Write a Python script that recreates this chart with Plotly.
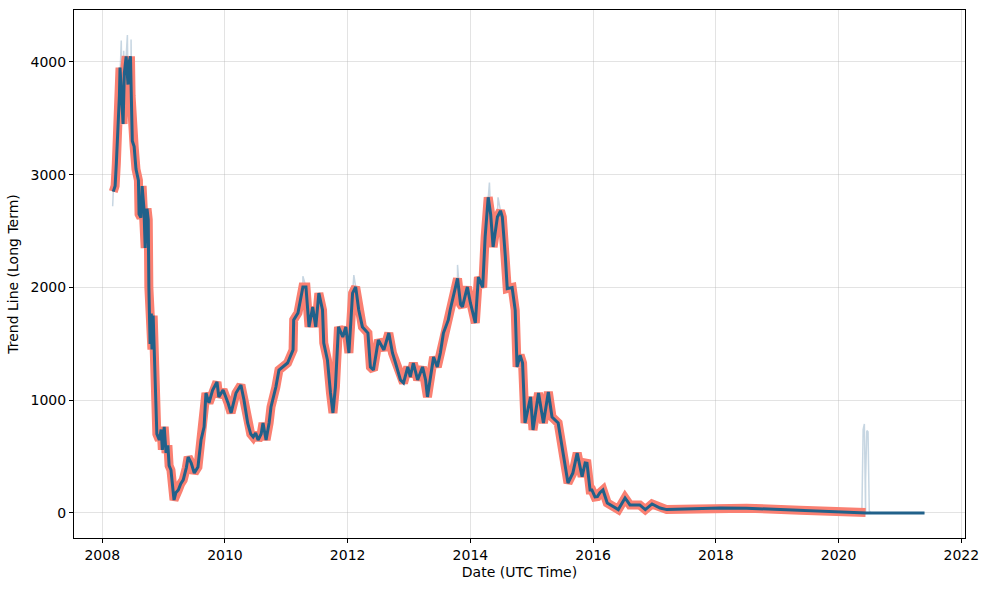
import plotly.graph_objects as go

# Long-term trend (decimal year, value)
trend_year = [
    2008.18, 2008.21, 2008.23, 2008.26, 2008.28, 2008.29, 2008.33, 2008.34, 2008.36, 2008.39,
    2008.42, 2008.44, 2008.46, 2008.47, 2008.49, 2008.52, 2008.55, 2008.59, 2008.60, 2008.63,
    2008.65, 2008.68, 2008.70, 2008.73, 2008.75, 2008.76, 2008.78, 2008.80, 2008.81, 2008.83,
    2008.85, 2008.86, 2008.88, 2008.89, 2008.93, 2008.96, 2008.98, 2009.01, 2009.04, 2009.07,
    2009.09, 2009.12, 2009.17, 2009.20, 2009.24, 2009.28, 2009.32, 2009.37, 2009.40, 2009.45,
    2009.50, 2009.56, 2009.61, 2009.66, 2009.69, 2009.74, 2009.80, 2009.87, 2009.90, 2009.97,
    2010.05, 2010.10, 2010.18, 2010.26, 2010.31, 2010.37, 2010.42, 2010.46, 2010.50, 2010.54,
    2010.59, 2010.62, 2010.67, 2010.72, 2010.75, 2010.83, 2010.88, 2010.94, 2011.02, 2011.11,
    2011.12, 2011.19, 2011.27, 2011.32, 2011.37, 2011.43, 2011.48, 2011.53, 2011.59, 2011.61,
    2011.67, 2011.72, 2011.76, 2011.80, 2011.85, 2011.92, 2011.97, 2012.02, 2012.08, 2012.13,
    2012.18, 2012.24, 2012.33, 2012.37, 2012.42, 2012.50, 2012.59, 2012.67, 2012.73, 2012.78,
    2012.86, 2012.91, 2012.98, 2013.02, 2013.07, 2013.14, 2013.22, 2013.27, 2013.30, 2013.35,
    2013.40, 2013.46, 2013.51, 2013.56, 2013.64, 2013.67, 2013.74, 2013.79, 2013.84, 2013.87,
    2013.95, 2014.00, 2014.08, 2014.13, 2014.20, 2014.24, 2014.29, 2014.33, 2014.37, 2014.44,
    2014.49, 2014.52, 2014.57, 2014.60, 2014.68, 2014.73, 2014.76, 2014.81, 2014.85, 2014.89,
    2014.98, 2015.02, 2015.11, 2015.19, 2015.27, 2015.33, 2015.43, 2015.51, 2015.59, 2015.67,
    2015.74, 2015.79, 2015.82, 2015.87, 2015.90, 2015.95, 2015.98, 2016.03, 2016.07, 2016.11,
    2016.16, 2016.23, 2016.33, 2016.41, 2016.52, 2016.60, 2016.76, 2016.85, 2016.96, 2017.09,
    2017.20, 2017.69, 2018.07, 2018.50, 2019.37, 2020.44,
]
trend_value = [
    2850, 2900, 3100, 3400, 3700, 3950, 3500, 3450, 3900, 4050,
    3800, 4000, 4050, 3700, 3300, 3250, 3050, 2950, 2650, 2620,
    2900, 2700, 2350, 2700, 2600, 2000, 1500, 1770, 1450, 1750,
    1400, 1100, 760, 700, 647, 740, 560, 763, 532, 600,
    420, 381, 115, 180, 204, 260, 293, 400, 497, 443,
    355, 408, 647, 763, 1064, 976, 1091, 1162, 1029, 1091,
    976, 887, 1064, 1135, 1002, 798, 700, 674, 710, 647,
    700, 798, 647, 800, 940, 1117, 1268, 1295, 1330, 1446,
    1712, 1774, 2005, 2005, 1650, 1827, 1650, 1950, 1800, 1508,
    1357, 1064, 887, 1117, 1650, 1561, 1650, 1419, 1950, 2005,
    1800, 1650, 1596, 1295, 1268, 1534, 1446, 1596, 1419, 1330,
    1180, 1153, 1295, 1206, 1330, 1180, 1295, 1180, 1029, 1206,
    1384, 1295, 1419, 1596, 1712, 1800, 1950, 2080, 1850, 1827,
    2005, 1863, 1685, 2093, 2000, 2448, 2800, 2650, 2359, 2625,
    2680, 2625, 2270, 1990, 2000, 1800, 1295, 1400, 1330, 798,
    1029, 736, 1064, 798, 1073, 851, 798, 532, 266, 355,
    532, 400, 322, 443, 440, 204, 204, 142, 145, 180,
    204, 89, 59, 30, 133, 71, 71, 30, 80, 44,
    30, 35, 45, 42, 25, 5,
]

# Extension of the thin trend line after the thick band ends
tail_year = [2020.45, 2021.40]
tail_value = [0, 0]

# Raw (noisy) values that stick out beyond the trend band
raw_extra_year = [
    2008.17, 2008.22, 2008.31, 2008.35, 2008.41, 2008.47, 2008.70, 2011.27, 2012.10,
    2013.79, 2014.31, 2014.45,
    2020.38, 2020.40, 2020.42, 2020.44, 2020.46, 2020.48, 2020.50, 2020.52, 2021.40,
]
raw_extra_value = [
    2720, 3150, 4190, 4100, 4240, 4200, 2500, 2100, 2110,
    2200, 2930, 2800,
    20, 740, 790, 300, 730, 720, 20, 0, 0,
]

# Combine the trend samples and the extra raw samples into one raw series
raw_pairs = sorted(list(zip(trend_year, trend_value)) + list(zip(raw_extra_year, raw_extra_value)))
raw_year = [p[0] for p in raw_pairs]
raw_value = [p[1] for p in raw_pairs]

x_ticks = [2008, 2010, 2012, 2014, 2016, 2018, 2020, 2022]
y_ticks = [0, 1000, 2000, 3000, 4000]

fig = go.Figure()
fig.add_trace(go.Scatter(x=raw_year, y=raw_value, mode="lines",
                         line=dict(color="rgba(130,165,190,0.45)", width=1.5),
                         showlegend=False, hoverinfo="skip"))
fig.add_trace(go.Scatter(x=trend_year, y=trend_value, mode="lines",
                         line=dict(color="#FA8072", width=9),
                         showlegend=False))
fig.add_trace(go.Scatter(x=trend_year + tail_year, y=trend_value + tail_value, mode="lines",
                         line=dict(color="#21618a", width=3),
                         showlegend=False))

axis_common = dict(
    showline=True, linecolor="black", linewidth=1, mirror=True,
    ticks="outside", ticklen=4, tickcolor="black",
    showgrid=True, gridcolor="rgba(176,176,176,0.35)", gridwidth=1,
    zeroline=False,
    tickfont=dict(family="DejaVu Sans", size=14, color="black"),
)

fig.update_layout(
    width=989, height=590,
    margin=dict(l=74, r=24, t=10, b=52),
    plot_bgcolor="white", paper_bgcolor="white",
    font=dict(family="DejaVu Sans", size=14, color="black"),
    xaxis=dict(range=[2007.54, 2022.06], tickvals=x_ticks,
               ticktext=[str(t) for t in x_ticks],
               title=dict(text="Date (UTC Time)", font=dict(size=14), standoff=5),
               **axis_common),
    yaxis=dict(range=[-222, 4461], tickvals=y_ticks,
               ticktext=[str(t) for t in y_ticks],
               title=dict(text="Trend Line (Long Term)", font=dict(size=14), standoff=8),
               **axis_common),
)

fig.write_html("out.html")
